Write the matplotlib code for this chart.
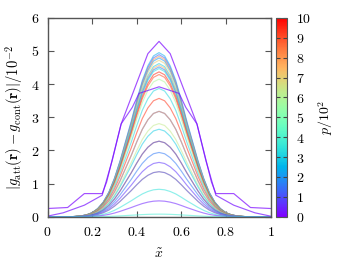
import numpy as np
import matplotlib
matplotlib.use('Agg')
import matplotlib.pyplot as plt
import matplotlib.cm as cm
import matplotlib.colors as colors

plt.rcParams['mathtext.fontset'] = 'cm'
plt.rcParams['font.family'] = 'serif'
plt.rcParams['font.serif'] = ['DejaVu Serif']

# shared smooth profile (distance from x=0.5 -> relative height)
prof_d = [0.0, 0.025, 0.05, 0.075, 0.1, 0.125, 0.15, 0.175, 0.2, 0.225, 0.25,
          0.275, 0.3, 0.325, 0.35, 0.375, 0.4, 0.45, 0.5]
prof_h = [1.0, 0.98, 0.92, 0.83, 0.71, 0.58, 0.46, 0.34, 0.235, 0.15, 0.09,
          0.05, 0.025, 0.012, 0.005, 0.002, 0.0, 0.0, 0.0]

# peak heights and p/10^2 (colour) of the smooth curves
peaks = [4.95, 4.89, 4.84, 4.79, 4.72, 4.62, 4.57, 4.52, 4.47, 4.37, 4.29, 4.15,
         3.87, 3.57, 3.18, 3.18, 2.81, 2.64, 2.28, 2.28, 1.94, 1.64, 1.36, 1.36,
         0.83, 0.48, 0.08, 0.0]
pvals = [2.3, 1.3, 8.0, 2.0, 7.0, 3.0, 7.5, 1.6, 3.3, 9.5, 9.0, 5.8,
         3.2, 9.3, 1.4, 7.8, 6.3, 3.0, 8.8, 1.4, 1.6, 0.7, 6.8, 0.9,
         3.5, 0.4, 3.8, 4.5]

# coarse low-p curves
xa = [0, 0.09, 0.165, 0.245, 0.265, 0.33, 0.45, 0.5, 0.55, 0.67, 0.735, 0.755, 0.835, 0.91, 1.0]
ya = [0.25, 0.28, 0.70, 0.70, 1.05, 2.8, 4.92, 5.29, 4.92, 2.8, 1.05, 0.70, 0.70, 0.28, 0.25]
xb = [0, 0.07, 0.165, 0.245, 0.29, 0.33, 0.38, 0.41, 0.5, 0.59, 0.62, 0.67, 0.71, 0.755, 0.835, 0.93, 1.0]
yb = [0.02, 0.12, 0.35, 0.65, 1.7, 2.8, 3.3, 3.72, 3.92, 3.72, 3.3, 2.8, 1.7, 0.65, 0.35, 0.12, 0.02]

fig = plt.figure(figsize=(3.55, 2.66), dpi=100)
ax = fig.add_axes([0.134, 0.185, 0.628, 0.748])
cax = fig.add_axes([0.777, 0.185, 0.032, 0.748])

cmap = plt.get_cmap('rainbow')
norm = colors.Normalize(0, 10)

d = np.array(prof_d)
h = np.array(prof_h)
xs = np.concatenate([0.5 - d[::-1], 0.5 + d[1:]])
hs = np.concatenate([h[::-1], h[1:]])

for pk, p in zip(peaks, pvals):
    ax.plot(xs, pk * hs, color=cmap(norm(p)), lw=0.85, alpha=0.55)

ax.plot(xa, ya, color=cmap(norm(0.1)), lw=0.85, alpha=0.7)
ax.plot(xb, yb, color=cmap(norm(0.2)), lw=0.85, alpha=0.7)

ax.set_xlim(0, 1)
ax.set_ylim(0, 6)
ax.set_xticks(np.arange(0, 1.01, 0.2))
ax.set_yticks(range(7))
fmt = lambda v, pos: r'$%g$' % round(v, 2)
ax.xaxis.set_major_formatter(plt.FuncFormatter(fmt))
ax.yaxis.set_major_formatter(plt.FuncFormatter(fmt))
ax.tick_params(direction='in', length=4, width=0.8, color='#555555',
               top=True, right=True, labelsize=10, pad=6)
for s in ax.spines.values():
    s.set_color('#555555')
    s.set_linewidth(1.0)

ax.set_xlabel(r'$\tilde{x}$', fontsize=10, labelpad=6)
ax.set_ylabel(r'$|g_{\rm att}(\mathbf{r}) - g_{\rm cont}(\mathbf{r})|/10^{-2}$',
              fontsize=10.5, labelpad=4)

sm = cm.ScalarMappable(norm=norm, cmap=cmap)
cb = fig.colorbar(sm, cax=cax)
cb.set_ticks(range(11))
cb.ax.yaxis.set_major_formatter(plt.FuncFormatter(fmt))
cb.ax.tick_params(direction='in', length=3, width=0.8, color='#444444',
                  left=True, right=True, labelsize=10, pad=6)
cb.outline.set_edgecolor('#555555')
cb.set_label(r'$p/10^2$', fontsize=10, labelpad=4)

fig.savefig('out.png', dpi=100)
